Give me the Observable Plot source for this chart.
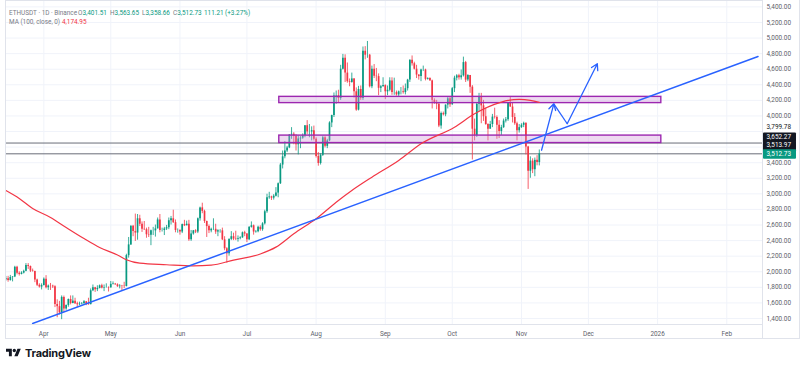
<!DOCTYPE html>
<html><head><meta charset="utf-8">
<script src="https://cdn.jsdelivr.net/npm/d3@7"></script>
<script src="https://cdn.jsdelivr.net/npm/@observablehq/plot@0.6"></script>
<style>
body{margin:0;background:#fff;font-family:Roboto,"Noto Sans",sans-serif;}
#wrap{position:relative;width:800px;height:369px;overflow:hidden;background:#fff;}
.lg{position:absolute;font-size:6.4px;line-height:8px;color:#787b86;white-space:nowrap;}
.g{color:#089981}.r{color:#f23645}
#logo{position:absolute;left:6px;top:346px;height:14px;display:flex;align-items:center;gap:4px;font-family:Inter,Roboto,sans-serif;font-weight:700;font-size:11px;letter-spacing:-0.2px;color:#131722;}
</style></head><body>
<div id="wrap">
<div id="chart"></div>
<div class="lg" style="left:9px;top:9px">ETHUSDT · 1D · Binance</div>
<div class="lg" style="left:78px;top:9px">O<span class="g">3,401.51</span></div>
<div class="lg" style="left:110px;top:9px">H<span class="g">3,563.65</span></div>
<div class="lg" style="left:142px;top:9px">L<span class="g">3,358.66</span></div>
<div class="lg" style="left:173px;top:9px">C<span class="g">3,512.73</span></div>
<div class="lg g" style="left:204px;top:9px">111.21</div>
<div class="lg g" style="left:225px;top:9px">(+3.27%)</div>
<div class="lg" style="left:9px;top:17.5px">MA (100, close, 0)</div>
<div class="lg r" style="left:62px;top:17.5px">4,174.95</div>
<div id="logo"><svg width="15" height="12" viewBox="0 0 36 28"><path d="M14 22H7V11H0V4h14v18zM28 22h-8l7.5-18h8L28 22z" fill="#131722"/><circle cx="20" cy="8" r="4" fill="#131722"/></svg><span>TradingView</span></div>
</div>
<script>
// ---- Daily candles ETHUSDT, starting 2025-03-15 ----
const startDate = "2025-03-15";
const open = [
1898,1911,1887,1927,1933,2057,1981,1966,1983,2005,2080,2068,2009,2003,1895,1827,1804,
1822,1905,1795,1817,1816,1806,1580,1552,1473,1671,1522,1568,1644,1592,1623,1589,1577,1584,1589,1614,1587,1578,1756,1796,1770,1786,1820,1790,1799,1799,
1793,1838,1842,1833,1808,1817,1815,1811,2207,2345,2583,2516,2497,2680,2610,2545,2540,2475,2470,2525,2525,2550,2665,2530,2530,2550,2565,2655,2680,2630,2530,
2530,2510,2605,2590,2610,2410,2485,2525,2510,2680,2820,2775,2645,2580,2525,2545,2545,2510,2525,2525,2410,2295,2230,2415,2450,2420,2415,2425,2435,2500,
2485,2410,2570,2590,2510,2515,2570,2540,2615,2770,2950,2960,2945,2970,3010,3130,3370,3475,3550,3590,3755,3765,3740,3630,3705,3715,3745,3875,3795,3795,3810,
3700,3480,3390,3495,3720,3610,3680,3910,4005,4255,4260,4225,4600,4740,4550,4440,4430,4475,4310,4075,4340,4225,4830,4780,4780,4375,4600,4510,4505,4355,4375,
4390,4310,4330,4450,4300,4300,4270,4310,4310,4300,4350,4460,4715,4670,4600,4525,4505,4590,4590,4470,4480,4450,4200,4165,4150,3870,4030,4015,4140,4220,
4145,4350,4485,4515,4490,4515,4685,4460,4520,4370,3830,3750,4150,4245,4130,3990,3890,3830,3890,3985,3980,3880,3800,3850,3935,3950,4160,4115,3980,3900,3810,
3850,3880,3905,3600,3290,3420,3310,3430,3401.51];
const high = [
1940,1941,1953,1938,2070,2070,2000,2000,2020,2105,2105,2073,2035,2008,1905,1846,1845,
1921,1950,1830,1850,1828,1820,1640,1620,1690,1688,1575,1650,1690,1690,1660,1610,1610,1605,1630,1618,1660,1780,1830,1800,1820,1830,1840,1830,1845,1805,
1875,1870,1850,1845,1835,1825,1865,2225,2440,2590,2595,2740,2735,2725,2640,2645,2560,2570,2535,2570,2600,2690,2735,2560,2570,2595,2690,2710,2790,2665,2550,
2540,2612,2660,2650,2660,2530,2530,2540,2690,2830,2880,2790,2650,2600,2560,2680,2610,2540,2540,2560,2450,2310,2425,2515,2495,2520,2460,2450,2510,2520,
2490,2580,2640,2600,2530,2585,2590,2630,2790,2995,3020,2970,2990,3080,3140,3390,3550,3670,3610,3760,3850,3785,3760,3745,3735,3770,3875,3940,3890,3860,3870,
3720,3530,3515,3740,3735,3700,3925,4010,4295,4320,4330,4650,4790,4785,4680,4475,4550,4480,4360,4380,4385,4885,4890,4956,4790,4640,4660,4610,4540,4390,4490,
4400,4385,4490,4490,4485,4320,4320,4365,4385,4410,4470,4720,4770,4690,4650,4530,4600,4640,4600,4490,4490,4460,4220,4200,4170,4050,4050,4140,4240,4240,
4365,4510,4530,4535,4590,4755,4700,4530,4520,4390,3960,4170,4290,4290,4200,4100,3900,3930,4020,4100,4000,3940,3880,3960,3980,4170,4250,4160,4030,3920,3890,
3900,3920,3910,3610,3475,3450,3460,3490,3563.65];
const low = [
1880,1866,1880,1870,1925,1960,1945,1960,1972,2000,2030,1990,1995,1860,1810,1790,1767,
1820,1780,1760,1760,1785,1540,1410,1445,1385,1475,1505,1545,1575,1590,1580,1540,1565,1575,1585,1565,1570,1575,1745,1735,1745,1780,1780,1745,1790,1740,
1790,1830,1825,1800,1780,1755,1785,1805,2175,2340,2450,2390,2405,2580,2505,2530,2430,2440,2335,2465,2445,2550,2500,2510,2465,2530,2540,2600,2620,2500,2495,
2470,2490,2580,2590,2390,2390,2470,2490,2490,2650,2745,2620,2440,2490,2500,2530,2480,2450,2495,2400,2270,2110,2200,2400,2400,2400,2380,2410,2430,2450,
2375,2400,2560,2470,2495,2500,2520,2520,2600,2750,2930,2915,2920,2960,2950,3120,3320,3450,3530,3580,3700,3630,3550,3500,3580,3700,3720,3760,3720,3680,3680,
3460,3355,3370,3480,3590,3580,3670,3850,3980,4150,4170,4200,4590,4430,4420,4375,4420,4230,4060,4065,4200,4200,4720,4740,4360,4350,4480,4440,4260,4300,4370,
4210,4260,4310,4265,4265,4255,4250,4270,4280,4270,4320,4430,4640,4590,4480,4460,4440,4570,4450,4460,4450,4090,4150,4080,3850,3830,4000,3990,4090,4110,
4135,4300,4450,4460,4460,4500,4430,4440,4290,3435,3680,3725,4050,3900,3930,3880,3680,3830,3850,3960,3700,3710,3750,3840,3910,3930,4110,3910,3880,3680,3780,
3840,3850,3500,3057,3200,3260,3220,3360,3358.66];
const close = [
1911,1887,1927,1933,2057,1981,1966,1983,2005,2080,2068,2009,2003,1895,1827,1804,1822,
1905,1795,1817,1816,1806,1580,1552,1473,1671,1522,1568,1644,1592,1623,1589,1577,1584,1589,1614,1587,1578,1756,1796,1770,1786,1820,1790,1799,1799,1793,
1838,1842,1833,1808,1817,1815,1811,2207,2345,2583,2516,2497,2680,2610,2545,2540,2475,2470,2525,2525,2550,2665,2530,2530,2550,2565,2655,2680,2630,2530,2530,
2510,2605,2590,2610,2410,2485,2525,2510,2680,2820,2775,2645,2580,2525,2545,2545,2510,2525,2525,2410,2295,2230,2415,2450,2420,2415,2425,2435,2500,2485,
2410,2570,2590,2510,2515,2570,2540,2615,2770,2950,2960,2945,2970,3010,3130,3370,3475,3550,3590,3755,3765,3740,3630,3705,3715,3745,3875,3795,3795,3810,3700,
3480,3390,3495,3720,3610,3680,3910,4005,4255,4260,4225,4600,4740,4550,4440,4430,4475,4310,4075,4340,4225,4830,4780,4780,4375,4600,4510,4505,4355,4375,4390,
4310,4330,4450,4300,4300,4270,4310,4310,4300,4350,4460,4715,4670,4600,4525,4505,4590,4590,4470,4480,4450,4200,4165,4150,3870,4030,4015,4140,4220,4145,
4350,4485,4515,4490,4515,4685,4460,4520,4370,3830,3750,4150,4245,4130,3990,3890,3830,3890,3985,3980,3880,3800,3850,3935,3950,4160,4115,3980,3900,3810,3850,
3880,3905,3600,3290,3420,3310,3430,3401.51,3512.73];

// ---- MA(100) ----
const maDates = ["2025-03-15","2025-03-21","2025-03-27","2025-04-04","2025-04-11","2025-04-19","2025-04-26","2025-05-04","2025-05-08","2025-05-14","2025-05-26","2025-06-07","2025-06-15","2025-06-25","2025-07-07","2025-07-14","2025-07-22","2025-08-01","2025-08-11","2025-08-17","2025-08-26","2025-09-07","2025-09-17","2025-10-02","2025-10-11","2025-10-23","2025-10-26","2025-10-31","2025-11-05","2025-11-09"];
const maValues = [3043,2941,2812,2697,2569,2427,2312,2215,2155,2110,2090,2075,2085,2150,2228,2316,2487,2680,2915,3043,3214,3428,3643,3856,4028,4177,4199,4212,4200,4175];

// ---- drawings ----
const trendDates = ["2025-03-27","2026-02-15"];
const trendPrices = [1336, 4764];
const zoneFrom = "2025-07-15T12:00Z";
const zoneTo = "2026-01-02T16:00Z";
const zoneLow = [3652, 4165];
const zoneHigh = [3748, 4245];
const hLevels = [3652.27, 3513.97];
const pathDates = ["2025-11-10T00:00Z","2025-11-15T12:00Z","2025-11-21T12:00Z","2025-12-05T00:00Z"];
const pathPrices = [3560, 4156, 3900, 4670];

// ---- axes ----
const gridPrices = d3.range(1400, 5401, 200);
const axisPrices = [5400,5200,5000,4800,4600,4400,4200,4000,3400,3200,3000,2800,2600,2400,2200,2000,1800,1600,1400];
const monthTicks = ["2025-04-01","2025-05-01","2025-06-01","2025-07-01","2025-08-01","2025-09-01","2025-10-01","2025-11-01","2025-12-01","2026-01-01","2026-02-01"];
const monthLabels = ["Apr","May","Jun","Jul","Aug","Sep","Oct","Nov","Dec","2026","Feb"];
const priceLabels = [3799.78, 3652.27, 3513.97, 3512.73];

const UP = "#089981", DOWN = "#f23645", BLUE = "#2962ff";
const t0 = new Date(startDate + "T00:00Z");
const candles = close.map((c, i) => ({date: d3.utcDay.offset(t0, i), open: open[i], high: high[i], low: low[i], close: c}));
const ma = maDates.map((d, i) => ({date: new Date(d + "T00:00Z"), v: maValues[i]}));
const trend = trendDates.map((d, i) => ({date: new Date(d + "T00:00Z"), v: trendPrices[i]}));
const zones = zoneLow.map((l, i) => ({x1: new Date(zoneFrom), x2: new Date(zoneTo), y1: l, y2: zoneHigh[i]}));
const path = pathDates.map((d, i) => ({date: new Date(d), v: pathPrices[i]}));
const seg = (a, b) => [{x1: path[a].date, y1: path[a].v, x2: path[b].date, y2: path[b].v}];
const mTicks = monthTicks.map(d => new Date(d + "T00:00Z"));
const fmt = d3.format(",.2f");
const lblDy = [-4.8, -5.9, -8.4, 0];
const lblFill = ["#131722", "#fff", "#fff", "#fff"];
const lblBg = [null, "#131722", "#131722", UP];

const marks = [
  Plot.gridY(gridPrices, {stroke: "#f0f3fa", strokeOpacity: 1}),
  Plot.gridX(mTicks, {stroke: "#f0f3fa", strokeOpacity: 1}),
  Plot.ruleY(hLevels, {stroke: "#6a6d78", strokeWidth: 1}),
  Plot.ruleX(candles, {x: "date", y1: "low", y2: "high", stroke: d => d.close >= d.open ? UP : DOWN, strokeWidth: 0.8, clip: true}),
  Plot.ruleX(candles, {x: "date", y1: "open", y2: "close", stroke: d => d.close >= d.open ? UP : DOWN, strokeWidth: 1.7, clip: true}),
  Plot.rect(zones, {x1: "x1", x2: "x2", y1: "y1", y2: "y2", fill: "#ce93d8", fillOpacity: 0.35, stroke: "#9c27b0", strokeWidth: 1.4}),
  Plot.line(ma, {x: "date", y: "v", stroke: DOWN, strokeWidth: 1.2, curve: "monotone-x"}),
  Plot.line(trend, {x: "date", y: "v", stroke: BLUE, strokeWidth: 1.5, clip: true}),
  Plot.arrow(seg(0, 1), {x1: "x1", y1: "y1", x2: "x2", y2: "y2", stroke: BLUE, strokeWidth: 1.3, headLength: 8}),
  Plot.link(seg(1, 2), {x1: "x1", y1: "y1", x2: "x2", y2: "y2", stroke: BLUE, strokeWidth: 1.3}),
  Plot.arrow(seg(2, 3), {x1: "x1", y1: "y1", x2: "x2", y2: "y2", stroke: BLUE, strokeWidth: 1.3, headLength: 8}),
  Plot.frame({stroke: "#e0e3eb"}),
  Plot.axisY({anchor: "right", ticks: axisPrices, tickFormat: fmt, tickSize: 0, tickPadding: 4, label: null, fill: "#5d606b"}),
  Plot.axisX({anchor: "bottom", ticks: mTicks, tickFormat: (d, i) => monthLabels[i], tickSize: 0, tickPadding: 6.5, label: null, fill: "#5d606b"}),
  ...priceLabels.map((v, i) => Plot.text([v], {y: d => d, text: d => fmt(d), frameAnchor: "right", textAnchor: "start", dx: 4, dy: lblDy[i], fill: lblFill[i]}))
];

const chart = Plot.plot({
  width: 800, height: 340,
  marginLeft: 5, marginRight: 38, marginTop: 0, marginBottom: 16,
  x: {type: "utc", domain: [new Date("2025-03-14T20:00Z"), new Date("2026-02-17T00:00Z")]},
  y: {domain: [1323, 5482]},
  style: {fontFamily: "Roboto, 'Noto Sans', sans-serif", fontSize: "6.4px", background: "#fff", overflow: "visible"},
  marks
});
document.getElementById("chart").appendChild(chart);

// label backgrounds (found by their text, drawn in the text's own coordinates) and axis-box borders
const svg = d3.select(chart);
const labelText = priceLabels.map(fmt);
svg.selectAll("text").each(function () {
  const i = labelText.indexOf(this.textContent);
  if (i < 0 || !lblBg[i]) return;
  const b = this.getBBox();
  const r = document.createElementNS("http://www.w3.org/2000/svg", "rect");
  r.setAttribute("x", b.x - 3.5); r.setAttribute("y", b.y - 0.8);
  r.setAttribute("width", 33); r.setAttribute("height", b.height + 1.6);
  r.setAttribute("rx", 1); r.setAttribute("fill", lblBg[i]);
  const tf = this.getAttribute("transform");
  if (tf) r.setAttribute("transform", tf);
  this.parentNode.insertBefore(r, this);
});
const bl = [[5.5, 324, 5.5, 338.5], [5, 338.5, 800, 338.5], [762.5, 0, 762.5, 338.5], [799.5, 0, 799.5, 338.5]];
bl.forEach(([a, b, c, d]) => svg.append("line").attr("x1", a).attr("y1", b).attr("x2", c).attr("y2", d).attr("stroke", "#e0e3eb"));
</script>
</body></html>
